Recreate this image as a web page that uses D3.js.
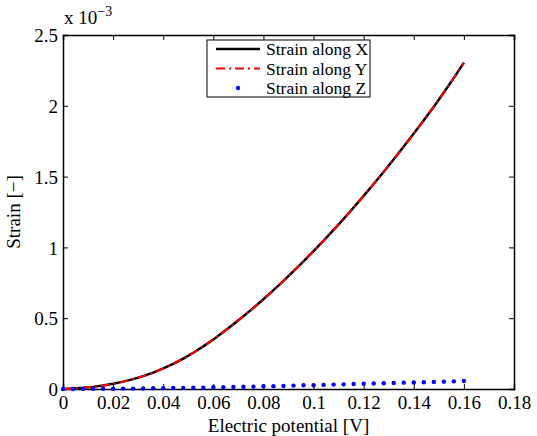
<!DOCTYPE html>
<html>
<head>
<meta charset="utf-8">
<script src="https://cdn.jsdelivr.net/npm/d3@7"></script>
<style>
body { margin: 0; background: #fff; }
</style>
</head>
<body>
<div id="chart"></div>
<script>
// electric potential [V]
const potential = [0, 0.004, 0.008, 0.012, 0.016, 0.02, 0.024, 0.028, 0.032, 0.036,
	0.04, 0.044, 0.048, 0.052, 0.056, 0.06, 0.064, 0.068, 0.072, 0.076,
	0.08, 0.084, 0.088, 0.092, 0.096, 0.1, 0.104, 0.108, 0.112, 0.116,
	0.12, 0.124, 0.128, 0.132, 0.136, 0.14, 0.144, 0.148, 0.152, 0.156, 0.16];
// strains, in units of 1e-3
const strainX = [0, 0.003, 0.008, 0.015, 0.025, 0.037, 0.052, 0.07, 0.091, 0.116,
	0.145, 0.178, 0.215, 0.256, 0.301, 0.35, 0.402, 0.457, 0.514, 0.573,
	0.634, 0.698, 0.764, 0.832, 0.902, 0.974, 1.048, 1.124, 1.202, 1.282,
	1.364, 1.448, 1.534, 1.622, 1.712, 1.804, 1.898, 1.994, 2.094, 2.197, 2.305];
const strainY = [0, 0.003, 0.008, 0.015, 0.024, 0.036, 0.051, 0.07, 0.09, 0.115,
	0.144, 0.177, 0.214, 0.255, 0.3, 0.349, 0.401, 0.456, 0.513, 0.572,
	0.633, 0.697, 0.763, 0.831, 0.901, 0.973, 1.047, 1.123, 1.201, 1.281,
	1.363, 1.447, 1.533, 1.621, 1.711, 1.803, 1.897, 1.993, 2.093, 2.196, 2.303];
const strainZ = [0, 0, 0.001, 0.001, 0.002, 0.002, 0.003, 0.003, 0.004, 0.005,
	0.006, 0.007, 0.008, 0.009, 0.01, 0.012, 0.013, 0.014, 0.016, 0.017,
	0.019, 0.02, 0.022, 0.024, 0.026, 0.027, 0.029, 0.031, 0.033, 0.035,
	0.037, 0.039, 0.041, 0.043, 0.045, 0.046, 0.048, 0.05, 0.052, 0.054, 0.056];
const xTicks = [0, 0.02, 0.04, 0.06, 0.08, 0.1, 0.12, 0.14, 0.16, 0.18];
const yTicks = [0, 0.5, 1, 1.5, 2, 2.5];
const legendLabels = ["Strain along X", "Strain along Y", "Strain along Z"];

const width = 537;
const height = 436;
const margin = { top: 35, right: 23, bottom: 47, left: 63 };
const font = "'Liberation Serif', 'Times New Roman', Times, serif";
const fs = 19;
const legendFs = 17.5;

const svg = d3.select("#chart")
	.append("svg")
	.attr("width", width)
	.attr("height", height)
	.attr("font-family", font)
	.style("font-family", font);

const xScale = d3.scaleLinear()
	.domain([0, 0.18])
	.range([margin.left, width - margin.right]);

const yScale = d3.scaleLinear()
	.domain([0, 2.5])
	.range([height - margin.bottom, margin.top]);

const tickLen = 5;

// axes with inward ticks on all sides
const xAxis = svg.append("g")
	.attr("transform", `translate(0, ${height - margin.bottom})`)
	.call(d3.axisBottom(xScale).tickValues(xTicks).tickSize(-tickLen).tickPadding(7).tickFormat(d3.format("")));
const xAxisTop = svg.append("g")
	.attr("transform", `translate(0, ${margin.top})`)
	.call(d3.axisTop(xScale).tickValues(xTicks).tickSize(-tickLen).tickFormat(""));
const yAxis = svg.append("g")
	.attr("transform", `translate(${margin.left}, 0)`)
	.call(d3.axisLeft(yScale).tickValues(yTicks).tickSize(-tickLen).tickPadding(5).tickFormat(d3.format("")));
const yAxisRight = svg.append("g")
	.attr("transform", `translate(${width - margin.right}, 0)`)
	.call(d3.axisRight(yScale).tickValues(yTicks).tickSize(-tickLen).tickFormat(""));

svg.selectAll("g").attr("font-family", font).attr("font-size", fs);
svg.selectAll(".domain").attr("stroke", "#000").attr("stroke-width", 1.5);
svg.selectAll(".tick line").attr("stroke", "#000").attr("stroke-width", 1);
svg.selectAll(".tick text").attr("fill", "#000").style("font-size", fs + "px");
xAxis.selectAll(".tick text").attr("dy", "0.71em");
yAxis.selectAll(".tick text").attr("dy", "0.35em");

// lines
const line = (arr) => d3.line()
	.x((d, i) => xScale(potential[i]))
	.y((d) => yScale(d))(arr);

svg.append("path")
	.attr("d", line(strainX))
	.attr("fill", "none")
	.attr("stroke", "#000")
	.attr("stroke-width", 2.5);

svg.append("path")
	.attr("d", line(strainY))
	.attr("fill", "none")
	.attr("stroke", "#ff0000")
	.attr("stroke-width", 2)
	.attr("stroke-dasharray", "9,4,2,4");

svg.selectAll(".zdot")
	.data(strainZ)
	.enter()
	.append("circle")
	.attr("class", "zdot")
	.attr("cx", (d, i) => xScale(potential[i]))
	.attr("cy", (d) => yScale(d))
	.attr("r", 2.2)
	.attr("fill", "#0000ff");

// legend
const legend = svg.append("g");
legend.append("rect")
	.attr("x", 207)
	.attr("y", 40)
	.attr("width", 163)
	.attr("height", 57)
	.attr("fill", "#fff")
	.attr("stroke", "#000")
	.attr("stroke-width", 1);

legendLabels.forEach(function (label, i) {
	const y = 49 + i * 19.5;
	if (i === 0) {
		legend.append("line").attr("x1", 216).attr("x2", 260).attr("y1", y).attr("y2", y)
			.attr("stroke", "#000").attr("stroke-width", 2.5);
	} else if (i === 1) {
		legend.append("line").attr("x1", 216).attr("x2", 260).attr("y1", y).attr("y2", y)
			.attr("stroke", "#ff0000").attr("stroke-width", 2).attr("stroke-dasharray", "9,4,2,4");
	} else {
		legend.append("circle").attr("cx", 238).attr("cy", y).attr("r", 2.2).attr("fill", "#0000ff");
	}
	legend.append("text")
		.attr("x", 266)
		.attr("y", y)
		.attr("dy", "0.35em")
		.style("font-size", legendFs + "px")
		.text(label);
});

// axis labels
svg.append("text")
	.attr("x", xScale(0.09))
	.attr("y", height - 4)
	.attr("text-anchor", "middle")
	.style("font-size", fs + "px")
	.text("Electric potential [V]");

svg.append("text")
	.attr("transform", `translate(20, ${yScale(1.25)}) rotate(-90)`)
	.attr("text-anchor", "middle")
	.style("font-size", fs + "px")
	.text("Strain [\u2212]");

// exponent
const expo = svg.append("text")
	.attr("x", 64)
	.attr("y", 24)
	.style("font-size", fs + "px");
expo.append("tspan").text("x 10");
expo.append("tspan").attr("dy", -8).style("font-size", "14px").text("\u22123");
</script>
</body>
</html>
